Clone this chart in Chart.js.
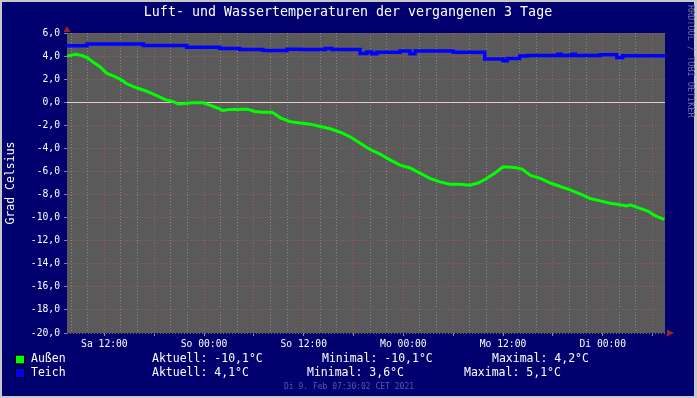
<!DOCTYPE html>
<html>
<head>
<meta charset="utf-8">
<style>
  html, body { margin: 0; padding: 0; background: #00006e; overflow: hidden; }
  canvas { display: block; }
</style>
<script src="https://cdn.jsdelivr.net/npm/chart.js@4"></script>
</head>
<body>
<canvas id="chart" width="697" height="398"></canvas>
<script>
// time axis: hours since Sa 06.02. 00:00, window 07:30 .. Di 07:30
const startHour = 7.5;
const endHour = 79.5;

const aussenHours = [7.5, 8.5, 9.3, 10.0, 10.6, 11.5, 12.3, 13.0, 13.9, 14.7, 15.5, 16.3, 17.1, 17.9, 18.7, 19.4,
  20.3, 20.9, 21.7, 22.6, 23.9, 24.7, 25.6, 26.3, 27.1, 29.2, 30.1, 31.0, 32.2, 33.2, 34.4, 35.6, 36.8, 38.0,
  39.2, 40.4, 41.6, 42.8, 44.0, 45.2, 46.4, 47.6, 48.8, 50.0, 51.2, 52.4, 53.6, 54.8, 56.0, 57.0, 57.8, 59.0,
  60.0, 61.4, 62.3, 63.3, 64.5, 65.7, 66.9, 68.1, 69.6, 70.5, 71.7, 72.9, 73.7, 74.9, 75.3, 76.5, 77.5, 78.1,
  78.7, 79.4];
const aussenTemp = [4.0, 4.15, 4.05, 3.85, 3.5, 3.05, 2.5, 2.3, 2.0, 1.6, 1.35, 1.15, 0.95, 0.7, 0.45, 0.2,
  0.05, -0.15, -0.12, -0.05, -0.05, -0.25, -0.5, -0.72, -0.62, -0.6, -0.8, -0.87, -0.87, -1.35, -1.7, -1.8, -1.9, -2.1,
  -2.3, -2.6, -3.0, -3.55, -4.1, -4.5, -5.0, -5.45, -5.7, -6.15, -6.6, -6.9, -7.1, -7.1, -7.2, -7.0, -6.7, -6.15,
  -5.6, -5.65, -5.8, -6.35, -6.6, -7.0, -7.3, -7.6, -8.05, -8.35, -8.55, -8.75, -8.85, -9.0, -8.9, -9.2, -9.45, -9.75,
  -9.95, -10.15];

// pond temperature changes in steps: each entry holds until the next one
const teichHours = [7.5, 9.9, 16.7, 21.9, 25.9, 28.3, 31.1, 34.0, 35.6, 38.6, 39.4, 42.8, 43.6, 44.2, 44.8, 47.6,
  48.8, 49.4, 54.0, 57.8, 60.0, 60.5, 62.0, 62.9, 66.6, 67.0, 68.3, 68.7, 71.7, 73.7, 74.4, 79.5];
const teichTemp = [4.9, 5.05, 4.92, 4.77, 4.65, 4.56, 4.48, 4.59, 4.56, 4.65, 4.56, 4.22, 4.35, 4.2, 4.33, 4.45,
  4.2, 4.45, 4.33, 3.75, 3.6, 3.8, 4.0, 4.05, 4.15, 4.05, 4.15, 4.05, 4.12, 3.87, 4.02, 4.02];

// grid every 2 h (full clock hours), labels every 12 h
const xGridHours = [8, 10, 12, 14, 16, 18, 20, 22, 24, 26, 28, 30, 32, 34, 36, 38, 40, 42, 44, 46, 48, 50,
  52, 54, 56, 58, 60, 62, 64, 66, 68, 70, 72, 74, 76, 78];
const xTickHours = [12, 24, 36, 48, 60, 72];
const xTickLabels = ["Sa 12:00", "So 00:00", "So 12:00", "Mo 00:00", "Mo 12:00", "Di 00:00"];

const yMin = -20;
const yMax = 6;

const title = "Luft- und Wassertemperaturen der vergangenen 3 Tage";
const yTitle = "Grad Celsius";
const legendRows = [
  { name: "Außen", color: "#00ff00", aktuell: "Aktuell: -10,1°C", minimal: "Minimal: -10,1°C", maximal: "Maximal: 4,2°C" },
  { name: "Teich", color: "#0000ff", aktuell: "Aktuell: 4,1°C", minimal: "Minimal: 3,6°C", maximal: "Maximal: 5,1°C" },
];
const stamp = "Di 9. Feb 07:30:02 CET 2021";
const watermark = "RRDTOOL / TOBI OETIKER";

const NAVY = "#00006e";
const MONO = "'DejaVu Sans Mono', monospace";
const MAJOR = "rgba(170, 90, 90, 0.9)";
const MINOR = "rgba(150, 150, 150, 0.8)";

function toPoints(xs, ys) {
  return xs.map((x, i) => ({ x, y: ys[i] }));
}

const decor = {
  id: "decor",
  beforeDraw(chart) {
    const { ctx, chartArea: a, width, height } = chart;
    ctx.save();
    ctx.fillStyle = "#c8c8c8";
    ctx.fillRect(0, 0, width, height);
    ctx.fillStyle = NAVY;
    ctx.fillRect(2, 2, width - 5, height - 4);
    ctx.fillStyle = "#5a5a5a";
    ctx.fillRect(a.left, a.top, a.right - a.left, a.bottom - a.top);
    ctx.restore();
  },
  afterDraw(chart) {
    const { ctx, chartArea: a } = chart;
    ctx.save();

    // arrows at the axis ends
    ctx.fillStyle = "#a02020";
    ctx.beginPath();
    ctx.moveTo(a.left - 3.5, a.top - 1);
    ctx.lineTo(a.left + 3.5, a.top - 1);
    ctx.lineTo(a.left, a.top - 7);
    ctx.closePath();
    ctx.fill();
    ctx.beginPath();
    ctx.moveTo(a.right + 2, a.bottom - 3.5);
    ctx.lineTo(a.right + 2, a.bottom + 3.5);
    ctx.lineTo(a.right + 9, a.bottom);
    ctx.closePath();
    ctx.fill();

    ctx.fillStyle = "#ffffff";
    ctx.textBaseline = "middle";
    ctx.font = `13.3px ${MONO}`;
    ctx.textAlign = "center";
    ctx.fillText(title, 348, 13);

    // y axis title
    ctx.save();
    ctx.translate(11, (a.top + a.bottom) / 2);
    ctx.rotate(-Math.PI / 2);
    ctx.font = `11.5px ${MONO}`;
    ctx.fillText(yTitle, 0, 0);
    ctx.restore();

    // legend
    ctx.textAlign = "left";
    ctx.font = `11.5px ${MONO}`;
    const rowY = [359.5, 373];
    const minX = [322, 307];
    const maxX = [492, 464];
    legendRows.forEach((r, i) => {
      const y = rowY[i];
      ctx.fillStyle = r.color;
      ctx.fillRect(16, y - 4, 8, 8);
      ctx.strokeStyle = "#000000";
      ctx.lineWidth = 1;
      ctx.strokeRect(15.5, y - 4.5, 9, 9);
      ctx.fillStyle = "#ffffff";
      ctx.fillText(r.name, 31, y);
      ctx.fillText(r.aktuell, 152, y);
      ctx.fillText(r.minimal, minX[i], y);
      ctx.fillText(r.maximal, maxX[i], y);
    });

    ctx.font = `8px ${MONO}`;
    ctx.fillStyle = "#5858a8";
    ctx.textAlign = "center";
    ctx.fillText(stamp, 349, 386.5);

    ctx.save();
    ctx.translate(690, 5);
    ctx.rotate(Math.PI / 2);
    ctx.textAlign = "left";
    ctx.font = `8.5px ${MONO}`;
    ctx.fillStyle = "#6c6ca8";
    ctx.fillText(watermark, 0, 0);
    ctx.restore();

    ctx.restore();
  },
};

new Chart(document.getElementById("chart"), {
  type: "line",
  data: {
    datasets: [
      {
        label: "Teich",
        data: toPoints(teichHours, teichTemp),
        borderColor: "#0000ff",
        borderWidth: 3.5,
        stepped: true,
        pointRadius: 0,
      },
      {
        label: "Außen",
        data: toPoints(aussenHours, aussenTemp),
        borderColor: "#00ff00",
        borderWidth: 3,
        tension: 0,
        pointRadius: 0,
      },
    ],
  },
  options: {
    responsive: false,
    animation: false,
    devicePixelRatio: 1,
    layout: { padding: { top: 33, right: 32, left: 0, bottom: 0 } },
    plugins: { legend: { display: false }, tooltip: { enabled: false }, title: { display: false } },
    scales: {
      x: {
        type: "linear",
        min: startHour,
        max: endHour,
        afterFit: (s) => { s.height = 65; },
        afterBuildTicks: (s) => { s.ticks = xGridHours.map((v) => ({ value: v })); },
        border: {
          display: false,
          dash: (c) => [1, 2],
        },
        grid: {
          color: (c) => (c.tick && c.tick.value % 6 === 0 ? MAJOR : MINOR),
          tickColor: (c) => (c.tick && c.tick.value % 6 === 0 ? "#9090a0" : "rgba(0,0,0,0)"),
          tickLength: 3,
        },
        ticks: {
          autoSkip: false,
          maxRotation: 0,
          padding: 3,
          color: "#ffffff",
          font: { family: MONO, size: 9.7 },
          callback: (v) => {
            const i = xTickHours.indexOf(v);
            return i >= 0 ? xTickLabels[i] : "";
          },
        },
      },
      y: {
        min: yMin,
        max: yMax,
        afterFit: (s) => { s.width = 67; },
        border: {
          display: false,
          dash: (c) => (c.tick && c.tick.value === 0 ? [] : [1, 2]),
        },
        grid: {
          color: (c) => {
            if (!c.tick) return MINOR;
            if (c.tick.value === 0) return "#e8cccc";
            return c.tick.value % 2 === 0 ? MAJOR : MINOR;
          },
          tickColor: "#8080a0",
          tickLength: 3,
        },
        ticks: {
          stepSize: 1,
          padding: 4,
          color: "#ffffff",
          font: { family: MONO, size: 9.7 },
          callback: (v) => (v % 2 === 0 ? v.toFixed(1).replace(".", ",") : ""),
        },
      },
    },
  },
  plugins: [decor],
});
</script>
</body>
</html>
